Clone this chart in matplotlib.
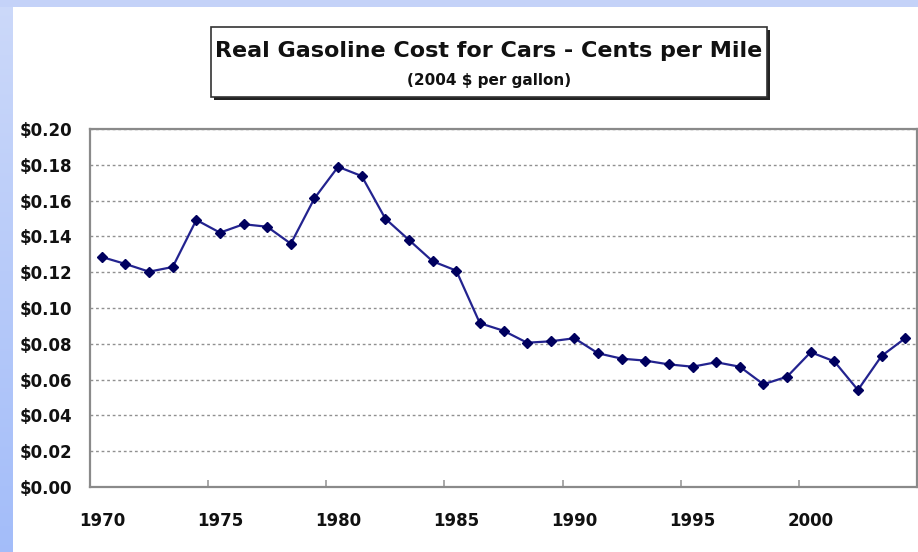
import numpy as np
import matplotlib.pyplot as plt
from matplotlib.patches import Rectangle
from matplotlib.ticker import FuncFormatter

plt.rcParams['font.family'] = ['DejaVu Sans']

# Real gasoline cost per mile, 2004 dollars
years = list(range(1970, 2005))
cost = [0.1285, 0.1246, 0.1203, 0.1229, 0.1492, 0.1421, 0.1468, 0.1454, 0.1359,
        0.1613, 0.1789, 0.1737, 0.1499, 0.1380, 0.1261, 0.1209, 0.0915, 0.0873,
        0.0806, 0.0814, 0.0831, 0.0747, 0.0717, 0.0706, 0.0685, 0.0672, 0.0697,
        0.0672, 0.0574, 0.0616, 0.0753, 0.0702, 0.0542, 0.0732, 0.0831]
label_years = [1970, 1975, 1980, 1985, 1990, 1995, 2000]
y_ticks = [0.00, 0.02, 0.04, 0.06, 0.08, 0.10, 0.12, 0.14, 0.16, 0.18, 0.20]

fig = plt.figure(figsize=(9.18, 5.52), dpi=100)
fig.patch.set_facecolor('white')

# slide background strips (left gradient, top band)
bg = fig.add_axes([0, 0, 1, 1], zorder=-10)
bg.set_xlim(0, 918)
bg.set_ylim(552, 0)
bg.axis('off')
grad = np.linspace(0, 1, 256).reshape(-1, 1)
top_col = np.array([0.80, 0.85, 0.98])
bot_col = np.array([0.64, 0.74, 0.98])
img = top_col * (1 - grad[..., None]) + bot_col * grad[..., None]
bg.imshow(img, extent=[0, 13, 552, 0], aspect='auto')
bg.add_patch(Rectangle((0, 0), 918, 7, color='#c4d2f8', lw=0))

# title box with drop shadow
bg.add_patch(Rectangle((214, 30), 556, 70, facecolor='#222222', lw=0))
bg.add_patch(Rectangle((211, 27), 556, 70, facecolor='white', edgecolor='#333333', lw=1.2))
bg.text(489, 51, 'Real Gasoline Cost for Cars - Cents per Mile', ha='center', va='center',
        fontsize=16, fontweight='bold', color='#111111')
bg.text(489, 81, '(2004 $ per gallon)', ha='center', va='center',
        fontsize=11, fontweight='bold', color='#111111')

ax = fig.add_axes([90 / 918, 1 - 487 / 552, 827 / 918, 358 / 552])
ax.plot(years, cost, color='#23238f', lw=1.6, marker='D', markersize=5.5,
        markerfacecolor='#00005e', markeredgecolor='#00005e', zorder=3)

ax.set_xlim(1969.5, 2004.5)
ax.set_ylim(0, 0.20)
ax.set_yticks(y_ticks)
ax.yaxis.set_major_formatter(FuncFormatter(lambda v, p: '${:.2f}'.format(v)))
ax.set_xticks(label_years)
ax.set_xticks([y + 4.5 for y in label_years], minor=True)
ax.tick_params(axis='both', which='major', length=0, labelsize=12, colors='#111111')
ax.tick_params(axis='y', pad=13)
ax.tick_params(axis='x', pad=18)
ax.tick_params(axis='x', which='minor', direction='in', length=5, width=1.2, color='#999999')
for lab in ax.get_xticklabels() + ax.get_yticklabels():
    lab.set_fontweight('bold')

ax.yaxis.grid(True, linestyle=(0, (2, 2)), color='#909090', lw=1.0)
for s in ax.spines.values():
    s.set_color('#8a8a8a')
    s.set_linewidth(1.6)

fig.savefig('out.png', dpi=100)
